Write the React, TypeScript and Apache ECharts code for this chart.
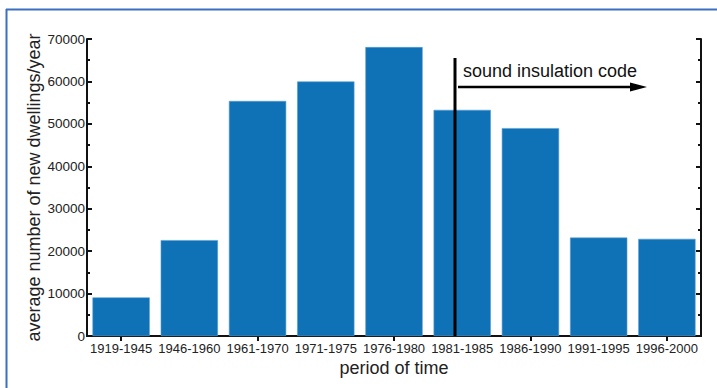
import React, { useEffect, useRef } from "react";
import * as echarts from "echarts";

const categories = [
  "1919-1945",
  "1946-1960",
  "1961-1970",
  "1971-1975",
  "1976-1980",
  "1981-1985",
  "1986-1990",
  "1991-1995",
  "1996-2000",
];
const dwellings = [9100, 22600, 55400, 60000, 68100, 53300, 49000, 23200, 22900];
const yTicks = { min: 0, max: 70000, interval: 10000 };
const annotationText = "sound insulation code";
const xName = "period of time";
const yName = "average number of new dwellings/year";

const FONT = "'Liberation Sans', Arial, sans-serif";

export default function App() {
  const ref = useRef<HTMLDivElement>(null);
  useEffect(() => {
    if (!ref.current) return;
    const chart = echarts.init(ref.current, null, { renderer: "svg" });
    const axisLine = { show: true, lineStyle: { color: "#111", width: 2 } };
    chart.setOption({
      animation: false,
      backgroundColor: "#fff",
      textStyle: { fontFamily: FONT },
      grid: { left: 87, top: 39, right: 16, bottom: 52, containLabel: false },
      xAxis: [
        {
          type: "category",
          data: categories,
          position: "bottom",
          axisLine,
          axisTick: { show: false },
          axisLabel: { color: "#222", fontSize: 13, margin: 6, fontFamily: FONT, interval: 0 },
          name: xName,
          nameLocation: "middle",
          nameGap: 23,
          nameMoveOverlap: false,
          nameTextStyle: { color: "#222", fontSize: 18, fontFamily: FONT },
        },
        {
          type: "category",
          data: categories,
          position: "top",
          axisLine,
          axisTick: { show: true, inside: true, alignWithLabel: true, length: 5, lineStyle: { color: "#111", width: 2 } },
          axisLabel: { show: false },
        },
      ],
      yAxis: [
        {
          type: "value",
          min: yTicks.min,
          max: yTicks.max,
          interval: yTicks.interval,
          position: "left",
          axisLine,
          axisTick: { show: true, inside: true, length: 5, lineStyle: { color: "#111", width: 2 } },
          minorTick: { show: true, splitNumber: 2, length: 3, lineStyle: { color: "#111", width: 2 } },
          splitLine: { show: false },
          axisLabel: { color: "#222", fontSize: 13.5, margin: 2, fontFamily: FONT, formatter: (v: number) => String(v) },
          name: yName,
          nameLocation: "middle",
          nameGap: 44,
          nameRotate: 90,
          nameMoveOverlap: false,
          nameTextStyle: { color: "#222", fontSize: 18, fontFamily: FONT },
        },
        {
          type: "value",
          min: yTicks.min,
          max: yTicks.max,
          interval: yTicks.interval,
          position: "right",
          axisLine,
          axisTick: { show: true, inside: true, length: 5, lineStyle: { color: "#111", width: 2 } },
          minorTick: { show: true, splitNumber: 2, length: 3, lineStyle: { color: "#111", width: 2 } },
          splitLine: { show: false },
          axisLabel: { show: false },
        },
      ],
      series: [
        {
          type: "bar",
          data: dwellings,
          xAxisIndex: 0,
          yAxisIndex: 0,
          barCategoryGap: "16%",
          itemStyle: { color: "#0f71b6", borderColor: "#5a9fd4", borderWidth: 0.6 },
        },
      ],
      graphic: [
        { type: "line", shape: { x1: 6.5, y1: 9, x2: 6.5, y2: 388 }, style: { stroke: "#3b6fc0", lineWidth: 2 } },
        { type: "line", shape: { x1: 6, y1: 9.5, x2: 717, y2: 9.5 }, style: { stroke: "#3b6fc0", lineWidth: 2 } },
        { type: "line", z: 100, shape: { x1: 455, y1: 58, x2: 455, y2: 336 }, style: { stroke: "#000", lineWidth: 3 } },
        { type: "line", z: 100, shape: { x1: 458, y1: 87, x2: 632, y2: 87 }, style: { stroke: "#000", lineWidth: 2.5 } },
        { type: "polygon", z: 100, shape: { points: [[630, 82.5], [647, 87], [630, 91.5]] }, style: { fill: "#000" } },
        {
          type: "text",
          z: 100,
          x: 463,
          y: 71,
          style: { text: annotationText, fill: "#111", font: `18px ${FONT}`, textVerticalAlign: "middle" },
        },
      ],
    });
    return () => chart.dispose();
  }, []);
  return <div ref={ref} style={{ position: "absolute", left: 0, top: 0, width: 717, height: 388 }} />;
}
